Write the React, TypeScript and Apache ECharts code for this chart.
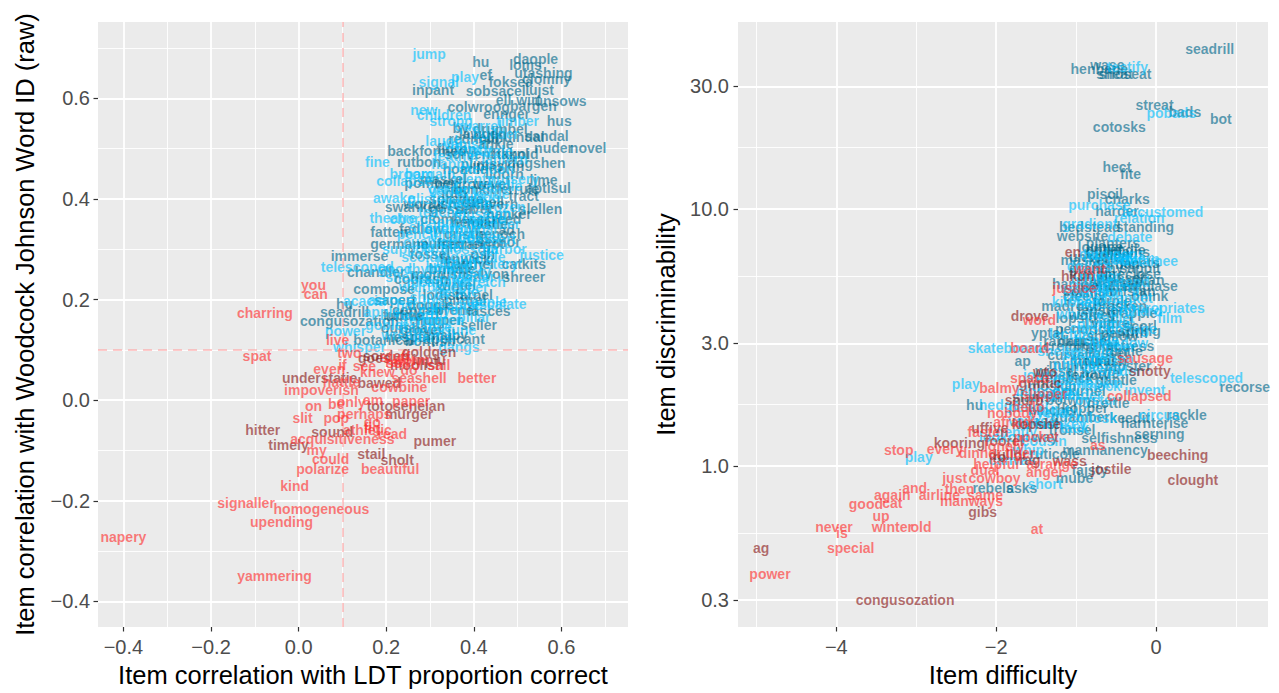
import { useEffect, useRef } from "react";
import * as echarts from "echarts";

type W = [string, number, number];

// ---------- Left panel: x = correlation with LDT, y = correlation with WJ Word ID ----------
const leftBlue: W[] = [
  ["jump", 0.298, 0.689], ["signal", 0.32, 0.632], ["play", 0.38, 0.642], ["new", 0.286, 0.578],
  ["children", 0.332, 0.568], ["strong", 0.348, 0.556], ["laugh", 0.332, 0.515], ["fine", 0.18, 0.473],
  ["broom", 0.257, 0.45], ["collapse", 0.241, 0.436], ["awake", 0.218, 0.402], ["theatre", 0.215, 0.362],
  ["justice", 0.555, 0.289], ["telescoped", 0.134, 0.265], ["acacia", 0.15, 0.198], ["escalate", 0.457, 0.192],
  ["power", 0.107, 0.137], ["whisper", 0.139, 0.105], ["gangs", 0.366, 0.105],
  ["vanish", 0.38, 0.51], ["builder", 0.45, 0.53], ["fancy", 0.40, 0.50], ["lantern", 0.47, 0.48],
  ["happy", 0.35, 0.47], ["mention", 0.43, 0.46], ["bargain", 0.30, 0.45], ["plenty", 0.40, 0.44],
  ["nursery", 0.49, 0.44], ["garden", 0.35, 0.42], ["kettle", 0.44, 0.41], ["glisten", 0.30, 0.40],
  ["decide", 0.39, 0.39], ["frozen", 0.47, 0.385], ["teacher", 0.33, 0.375], ["museum", 0.42, 0.37],
  ["chorus", 0.26, 0.36], ["anchor", 0.37, 0.355], ["wander", 0.45, 0.35], ["shallow", 0.31, 0.345],
  ["journal", 0.40, 0.34], ["pencil", 0.27, 0.33], ["village", 0.35, 0.325], ["dessert", 0.44, 0.32],
  ["cushion", 0.30, 0.315], ["blossom", 0.39, 0.30], ["harbor", 0.47, 0.30], ["support", 0.25, 0.30],
  ["scolding", 0.30, 0.285], ["lemon", 0.36, 0.275], ["mystery", 0.44, 0.27], ["good", 0.22, 0.26],
  ["rhythm", 0.30, 0.26], ["thirsty", 0.39, 0.255], ["shelter", 0.25, 0.245], ["silence", 0.34, 0.24],
  ["stretch", 0.42, 0.235], ["walrus", 0.28, 0.225], ["freckle", 0.36, 0.215], ["across", 0.21, 0.20],
  ["hardly", 0.27, 0.19], ["despise", 0.36, 0.19], ["steeple", 0.42, 0.195], ["apple", 0.19, 0.175],
  ["record", 0.27, 0.17], ["mitten", 0.33, 0.16], ["pillar", 0.40, 0.165], ["goblet", 0.20, 0.15],
  ["balance", 0.29, 0.145], ["fortune", 0.35, 0.14], ["wreath", 0.24, 0.13], ["partial", 0.31, 0.125],
  ["quarrel", 0.41, 0.545], ["timber", 0.50, 0.555], ["puzzle", 0.44, 0.495], ["feather", 0.36, 0.485],
  ["saddle", 0.46, 0.425], ["velvet", 0.34, 0.415], ["button", 0.41, 0.405], ["cradle", 0.37, 0.395],
  ["noble", 0.43, 0.36], ["sparrow", 0.35, 0.34], ["lobster", 0.41, 0.325], ["tunnel", 0.33, 0.305],
  ["marble", 0.42, 0.285], ["hollow", 0.34, 0.265], ["ladder", 0.40, 0.245], ["meadow", 0.31, 0.235],
  ["pepper", 0.38, 0.225], ["shiver", 0.30, 0.205], ["canyon", 0.33, 0.18], ["tender", 0.29, 0.16],
];

const leftTeal: W[] = [
  ["hu", 0.416, 0.673], ["daople", 0.541, 0.679], ["loms", 0.518, 0.667], ["utashing", 0.559, 0.65],
  ["clomny", 0.566, 0.638], ["ef", 0.427, 0.646], ["foksea", 0.484, 0.632], ["inpant", 0.307, 0.616],
  ["sobsacel", 0.45, 0.614], ["lujst", 0.55, 0.616], ["ell", 0.468, 0.596], ["wirt", 0.525, 0.596],
  ["unsows", 0.598, 0.594], ["colwroog", 0.411, 0.582], ["bargen", 0.536, 0.584], ["ennger", 0.475, 0.57],
  ["hus", 0.595, 0.556], ["by", 0.37, 0.541], ["rednuindal", 0.48, 0.523], ["sandal", 0.566, 0.525],
  ["backformed", 0.293, 0.495], ["nuder", 0.582, 0.501], ["novel", 0.661, 0.501], ["hkknl", 0.484, 0.489],
  ["rutbon", 0.275, 0.473], ["dogshen", 0.543, 0.471], ["pomber", 0.30, 0.432], ["lime", 0.559, 0.438],
  ["aptisul", 0.57, 0.422], ["idth", 0.355, 0.412], ["tract", 0.514, 0.406], ["swanked", 0.264, 0.384],
  ["slellen", 0.552, 0.38], ["screed", 0.457, 0.36], ["fatten", 0.207, 0.335], ["ad", 0.475, 0.339],
  ["germane", 0.23, 0.311], ["sernor", 0.457, 0.315], ["immerse", 0.139, 0.287], ["catkits", 0.514, 0.271],
  ["chandler", 0.177, 0.255], ["shreer", 0.514, 0.244], ["compose", 0.195, 0.222], ["hu", 0.105, 0.192],
  ["fasces", 0.434, 0.178], ["seadrill", 0.105, 0.176], ["congusozation", 0.116, 0.158], ["uffive", 0.241, 0.168],
  ["seller", 0.411, 0.15], ["oursha", 0.241, 0.143], ["botanical", 0.195, 0.119], ["applicant", 0.355, 0.121],
  ["lawgen", 0.42, 0.53], ["rednoid", 0.40, 0.52], ["ankle", 0.45, 0.51], ["floron", 0.36, 0.50],
  ["tanoid", 0.50, 0.49], ["plimsy", 0.42, 0.47], ["hoadle", 0.38, 0.46], ["lidorn", 0.47, 0.45],
  ["maskel", 0.33, 0.44], ["trevel", 0.44, 0.43], ["bonkit", 0.40, 0.42], ["ferrule", 0.50, 0.42],
  ["spradge", 0.36, 0.40], ["cavern", 0.45, 0.39], ["wornish", 0.30, 0.39], ["dilvet", 0.40, 0.38],
  ["hanker", 0.48, 0.37], ["clomber", 0.34, 0.36], ["trastle", 0.43, 0.35], ["fadlow", 0.28, 0.34],
  ["gristle", 0.38, 0.33], ["penoch", 0.46, 0.33], ["mulset", 0.32, 0.31], ["rangot", 0.42, 0.31],
  ["tossel", 0.30, 0.29], ["fenwick", 0.38, 0.28], ["osh", 0.42, 0.29], ["brindle", 0.35, 0.26],
  ["salvon", 0.43, 0.25], ["cobrash", 0.28, 0.24], ["wintel", 0.36, 0.23], ["lodish", 0.33, 0.21],
  ["tarnel", 0.40, 0.21], ["sapert", 0.22, 0.20], ["doggle", 0.30, 0.19], ["prenel", 0.36, 0.18],
  ["fuddle", 0.24, 0.17], ["nupper", 0.32, 0.16], ["grovet", 0.28, 0.14], ["malby", 0.34, 0.13],
  ["hesper", 0.25, 0.125], ["bontish", 0.30, 0.118],
  ["drumbel", 0.46, 0.54], ["sorvent", 0.39, 0.49], ["plaskin", 0.46, 0.465], ["wedrow", 0.37, 0.43],
  ["trunell", 0.42, 0.395], ["gosset", 0.35, 0.38], ["hemlar", 0.40, 0.355], ["frennet", 0.37, 0.31],
  ["batchel", 0.39, 0.27], ["mordish", 0.32, 0.25], ["pintrel", 0.38, 0.20], ["corvish", 0.27, 0.18],
];

const leftRed: W[] = [
  ["you", 0.034, 0.23], ["can", 0.039, 0.212], ["charring", -0.077, 0.174], ["live", 0.089, 0.119],
  ["two", 0.116, 0.093], ["spat", -0.095, 0.087], ["even", 0.07, 0.063], ["if", 0.10, 0.069],
  ["see", 0.15, 0.067], ["so", 0.218, 0.073], ["knew", 0.18, 0.057], ["do", 0.252, 0.061],
  ["sail", 0.32, 0.069], ["hattle", 0.098, 0.036], ["seashell", 0.275, 0.044], ["better", 0.407, 0.044],
  ["cowbine", 0.23, 0.026], ["impoverish", 0.052, 0.02], ["only", 0.12, -0.004], ["am", 0.17, 0.0],
  ["paper", 0.257, -0.002], ["on", 0.034, -0.012], ["be", 0.086, -0.008], ["slit", 0.009, -0.036],
  ["pop", 0.086, -0.036], ["perhaps", 0.15, -0.028], ["go", 0.168, -0.044], ["fig", 0.168, -0.055],
  ["athletic", 0.157, -0.059], ["read", 0.214, -0.067], ["acquisitiveness", 0.10, -0.077], ["my", 0.041, -0.099],
  ["could", 0.073, -0.117], ["polarize", 0.055, -0.137], ["beautiful", 0.209, -0.137], ["kind", -0.009, -0.17],
  ["signaller", -0.12, -0.204], ["homogeneous", 0.052, -0.216], ["upending", -0.039, -0.242],
  ["napery", -0.40, -0.273], ["yammering", -0.055, -0.349],
  ["stuff", 0.22, 0.085], ["dorm", 0.26, 0.080], ["ready", 0.24, 0.075],
];

const leftDark: W[] = [
  ["goldgen", 0.298, 0.095], ["goes", 0.173, 0.083], ["inpiu", 0.298, 0.079], ["understatie", 0.048, 0.044],
  ["bawed", 0.184, 0.034], ["totoseneian", 0.245, -0.012], ["murger", 0.252, -0.028], ["hitter", -0.082, -0.059],
  ["sound", 0.077, -0.063], ["pumer", 0.311, -0.081], ["timely", -0.023, -0.089], ["stail", 0.166, -0.107],
  ["sholt", 0.225, -0.119], ["sorden", 0.20, 0.088], ["moolish", 0.27, 0.07],
];

// ---------- Right panel: x = item difficulty, y = item discriminability (log scale) ----------
const rightTeal: W[] = [
  ["seadrill", 0.67, 41.8], ["wase", -0.61, 36.3], ["henbane", -0.71, 35.0], ["sheat", -0.52, 33.5],
  ["shoseat", -0.39, 33.5], ["streat", -0.02, 25.4], ["bads", 0.36, 23.8], ["bot", 0.81, 22.4],
  ["cotosks", -0.46, 20.8], ["hect", -0.49, 14.6], ["fite", -0.32, 13.7], ["piscil", -0.64, 11.4],
  ["charks", -0.36, 10.9], ["harder", -0.49, 9.8], ["bedstead", -0.83, 8.5], ["standing", -0.14, 8.54],
  ["website", -0.92, 7.88], ["planters", -0.54, 7.34], ["chaplains", -0.48, 6.77], ["unsealed", -0.71, 6.48],
  ["facets", -0.21, 6.14], ["foreclose", -0.33, 5.57], ["titan", -0.08, 5.3], ["emplase", -0.08, 5.0],
  ["ohink", -0.08, 4.57], ["yptal", -1.36, 3.29], ["spring", -0.21, 3.35], ["creminy", -1.08, 2.93],
  ["actress", -0.33, 2.93], ["ap", -1.67, 2.56], ["rural", -0.71, 2.56], ["recorse", 1.11, 2.03],
  ["hu", -2.27, 1.73], ["kopper", -0.89, 1.68], ["rackle", 0.38, 1.58], ["keedit", -0.33, 1.53],
  ["harnterise", -0.02, 1.47], ["serning", 0.04, 1.33], ["way", -1.39, 1.29], ["selfishness", -0.46, 1.28],
  ["mannanency", -0.64, 1.15], ["ruticole", -1.27, 1.11], ["fajsty", -0.83, 0.96], ["mube", -1.02, 0.9],
  ["rebels", -2.04, 0.82], ["asks", -1.68, 0.82],
  ["lounce", -0.7, 7.1], ["trindle", -0.4, 6.9], ["maskel", -0.9, 6.3], ["dorben", -0.5, 6.1],
  ["sappit", -0.2, 5.9], ["frondle", -0.8, 5.6], ["plusset", -0.45, 5.4], ["hanlow", -1.0, 5.1],
  ["wendish", -0.6, 5.0], ["bristan", -0.3, 4.8], ["cleevy", -0.9, 4.6], ["torple", -0.55, 4.4],
  ["madrow", -1.1, 4.2], ["fenster", -0.7, 4.05], ["grapple", -0.3, 3.95], ["lopsid", -1.0, 3.75],
  ["vintrel", -0.55, 3.6], ["scorl", -0.2, 3.5], ["pendrick", -0.9, 3.4], ["shollow", -0.55, 3.2],
  ["ranket", -1.15, 3.05], ["bosket", -0.75, 2.95], ["dintle", -0.4, 2.8], ["curvet", -1.1, 2.7],
  ["holmish", -0.7, 2.55], ["tapster", -0.35, 2.45], ["wissel", -1.25, 2.35], ["ferrow", -0.85, 2.25],
  ["gantle", -0.5, 2.15], ["moskin", -1.3, 2.05], ["purnel", -0.9, 1.95], ["slanish", -1.5, 1.85],
  ["botwin", -1.1, 1.8], ["drettle", -0.6, 1.75], ["hinchel", -1.3, 1.65], ["quamber", -0.95, 1.55],
  ["larkish", -1.45, 1.45], ["tronsel", -1.05, 1.38],
  ["pollet", -0.65, 6.9], ["granchy", -0.75, 5.9], ["stemple", -0.5, 5.2], ["cornish", -0.85, 4.8],
  ["brasken", -0.45, 4.2], ["wolvey", -0.8, 3.85], ["penrith", -0.4, 3.3], ["dabchel", -0.9, 3.05],
  ["fosset", -0.6, 2.75], ["mulwick", -1.0, 2.5], ["hartle", -0.7, 2.3], ["trembick", -1.15, 2.2],
];

const rightBlue: W[] = [
  ["testify", -0.36, 35.6], ["pobads", 0.19, 23.6], ["purchase", -0.71, 10.4], ["accustomed", 0.08, 9.77],
  ["relation", -0.21, 9.26], ["gradient", -0.83, 8.77], ["debate", -0.33, 7.81], ["cardigans", -0.55, 6.7],
  ["detainee", -0.08, 6.25], ["dollars", -0.83, 5.98], ["cinema", -0.89, 4.87], ["appropriates", 0.08, 4.11],
  ["film", 0.17, 3.76], ["skateboard", -1.89, 2.87], ["telescoped", 0.63, 2.2], ["play", -2.38, 2.08],
  ["invent", -0.14, 1.98], ["hedge", -1.96, 1.72], ["circus", 0.04, 1.58], ["collosk", -0.79, 1.53],
  ["tauk", -1.02, 1.4], ["play", -2.97, 1.08], ["short", -1.39, 0.85],
  ["harvest", -0.6, 6.6], ["lantern", -0.25, 6.4], ["giraffe", -0.8, 5.3], ["pretend", -0.4, 5.2],
  ["mention", -0.75, 4.7], ["blanket", -0.35, 4.5], ["kitchen", -1.0, 4.35], ["scissors", -0.6, 4.25],
  ["orchard", -0.25, 4.0], ["whistle", -0.95, 3.9], ["glimmer", -0.65, 3.55], ["cottage", -0.3, 3.4],
  ["lecture", -1.05, 3.25], ["freckle", -0.75, 3.1], ["meadow", -0.45, 3.0], ["shelter", -1.2, 2.8],
  ["sparkle", -0.85, 2.75], ["ribbon", -0.55, 2.6], ["tumble", -1.0, 2.45], ["plenty", -0.65, 2.4],
  ["journey", -1.35, 2.25], ["castle", -1.05, 2.15], ["napkin", -0.7, 2.1], ["blossom", -1.4, 1.95],
  ["thunder", -1.0, 1.88], ["pencil", -1.6, 1.7], ["lullaby", -1.2, 1.62], ["voyage", -1.55, 1.5],
  ["monkey", -1.2, 1.45], ["gently", -1.75, 1.35], ["cousin", -1.4, 1.25], ["lookout", -1.9, 1.3],
  ["whip", -1.6, 1.15], ["canvas", -1.8, 1.05], ["eyelid", -1.35, 1.6],
  ["buckle", -0.5, 6.3], ["mirror", -0.7, 5.5], ["pudding", -0.55, 4.95], ["rocket", -0.9, 4.45],
  ["tablet", -0.5, 3.75], ["crystal", -0.8, 3.45], ["lumber", -0.55, 2.9], ["candle", -0.9, 2.6],
  ["spider", -0.45, 2.35], ["hammock", -0.85, 2.05], ["puppet", -1.25, 1.9], ["oyster", -0.75, 1.8],
];

const rightRed: W[] = [
  ["want", -0.83, 5.82], ["justice", -1.02, 4.91], ["word", -1.46, 3.7], ["board", -1.58, 2.87],
  ["sausage", -0.14, 2.63], ["space", -1.58, 2.2], ["balmy", -1.96, 2.01], ["collapsed", -0.21, 1.87],
  ["stop", -3.22, 1.15], ["every", -2.64, 1.16], ["as", -0.73, 1.21], ["dual", -2.14, 0.96],
  ["anger", -1.39, 0.95], ["just", -2.52, 0.9], ["cowboy", -2.02, 0.9], ["then", -2.46, 0.81],
  ["and", -3.02, 0.82], ["again", -3.3, 0.77], ["airline", -2.71, 0.77], ["same", -2.14, 0.77],
  ["good", -3.63, 0.71], ["cat", -3.3, 0.72], ["manways", -2.31, 0.73], ["up", -3.44, 0.64],
  ["never", -4.03, 0.58], ["winter", -3.3, 0.58], ["old", -2.94, 0.58], ["at", -1.49, 0.57],
  ["is", -3.93, 0.55], ["special", -3.82, 0.48], ["power", -4.83, 0.38],
  ["fasten", -2.1, 1.35], ["hello", -1.6, 1.7], ["lonely", -1.9, 1.2], ["tiger", -1.7, 1.12],
  ["pocket", -1.5, 1.3], ["dinner", -2.2, 1.12], ["slipper", -1.4, 1.9], ["nobody", -1.8, 1.6],
  ["arrange", -1.3, 1.02], ["helpful", -2.0, 1.02], ["afraid", -1.8, 1.48],
];

const rightDark: W[] = [
  ["en", -1.04, 6.77], ["hkun", -0.98, 5.47], ["drove", -1.58, 3.83], ["snotty", -0.08, 2.34],
  ["wto", -1.39, 2.32], ["uffive", -2.08, 1.41], ["kooring", -2.46, 1.23], ["beeching", 0.27, 1.1],
  ["rag", -1.58, 1.05], ["wass", -1.08, 1.04], ["ro", -1.96, 1.08], ["jostile", -0.56, 0.97],
  ["clought", 0.46, 0.88], ["gibs", -2.17, 0.66], ["ag", -4.94, 0.48], ["congusozation", -3.14, 0.3],
  ["foorel", -1.9, 1.25], ["snurb", -1.65, 1.8], ["kopshe", -1.5, 1.45], ["dullor", -1.85, 1.1],
  ["grintic", -1.45, 2.1],
];

// ---------- Axis breaks ----------
const leftXMajor = [-0.4, -0.2, 0, 0.2, 0.4, 0.6];
const leftXMinor = [-0.3, -0.1, 0.1, 0.3, 0.5, 0.7];
const leftYMajor = [-0.4, -0.2, 0, 0.2, 0.4, 0.6];
const leftYMinor = [-0.3, -0.1, 0.1, 0.3, 0.5, 0.7];
const rightXMajor = [-4, -2, 0];
const rightXMinor = [-5, -3, -1, 1];
const rightYMajor = [0.3, 1, 3, 10, 30];
const cutoff = 0.1;

const FONT = "'Liberation Sans', Arial, sans-serif";
const C_RED = "rgba(255,48,48,0.78)";
const C_DARK = "rgba(139,26,26,0.78)";
const C_TEAL = "rgba(0,104,139,0.78)";
const C_BLUE = "rgba(0,191,255,0.78)";

const fmtSigned = (d: number) => (v: number) => {
  const s = Math.abs(v).toFixed(d);
  return v < -1e-9 ? "\u2212" + s : s;
};

function buildOption() {
  const lg = Math.log10;
  const rYMajorLog = rightYMajor.map((v) => lg(v));
  const rYMinorLog: number[] = [];
  for (let i = 0; i < rYMajorLog.length - 1; i++) rYMinorLog.push((rYMajorLog[i] + rYMajorLog[i + 1]) / 2);

  const major = (gridIndex: number, min: number, max: number, vals: number[], fmt: any, position: string, name: string, nameGap: number, labelMargin: number) => ({
    type: "value", gridIndex, min, max, position, name, nameLocation: "middle", nameGap,
    nameTextStyle: { fontSize: 25.5, color: "#000", fontFamily: FONT },
    axisLine: { show: false, onZero: false },
    axisTick: { show: true, length: 4.5, lineStyle: { color: "#333", width: 1.2 }, customValues: vals },
    axisLabel: { show: true, customValues: vals, formatter: fmt, color: "#4D4D4D", fontSize: 20, fontFamily: FONT, margin: labelMargin },
    splitLine: { show: true, lineStyle: { color: "#FFFFFF", width: 1.8 } },
  });
  const minor = (gridIndex: number, min: number, max: number, vals: number[], position: string) => ({
    type: "value", gridIndex, min, max, position,
    axisLine: { show: false, onZero: false },
    axisTick: { show: false, customValues: vals },
    axisLabel: { show: false },
    splitLine: { show: true, lineStyle: { color: "#FFFFFF", width: 0.9 } },
  });

  const words = (list: W[], color: string, xi: number, yi: number, logY: boolean, z: number) => ({
    type: "scatter", xAxisIndex: xi, yAxisIndex: yi, symbolSize: 1, silent: true, z,
    itemStyle: { color: "rgba(0,0,0,0)" },
    data: list.map(([w, x, y]) => ({ name: w, value: [x, logY ? lg(y) : y] })),
    label: { show: true, position: "inside", formatter: "{b}", color, fontSize: 14, fontWeight: "bold", fontFamily: FONT },
    labelLayout: { hideOverlap: false },
  });

  const lxMin = -0.458, lxMax = 0.752, lyMin = -0.451, lyMax = 0.752;
  const rxMin = -5.23, rxMax = 1.4, ryMin = lg(0.236), ryMax = lg(53.4);

  return {
    animation: false,
    backgroundColor: "#FFFFFF",
    grid: [
      { left: 98, top: 22, width: 530, height: 620, show: true, backgroundColor: "#EBEBEB", borderWidth: 0 },
      { left: 738, top: 22, width: 530, height: 620, show: true, backgroundColor: "#EBEBEB", borderWidth: 0 },
    ],
    xAxis: [
      major(0, lxMin, lxMax, leftXMajor, fmtSigned(1), "bottom", "Item correlation with LDT proportion correct", 35, 10),
      minor(0, lxMin, lxMax, leftXMinor, "top"),
      major(1, rxMin, rxMax, rightXMajor, fmtSigned(0), "bottom", "Item difficulty", 35, 10),
      minor(1, rxMin, rxMax, rightXMinor, "top"),
    ],
    yAxis: [
      major(0, lyMin, lyMax, leftYMajor, fmtSigned(1), "left", "Item correlation with Woodcock Johnson Word ID (raw)", 60, 8),
      minor(0, lyMin, lyMax, leftYMinor, "right"),
      major(1, ryMin, ryMax, rYMajorLog, (v: number) => Math.pow(10, v).toFixed(1), "left", "Item discriminability", 59, 9),
      minor(1, ryMin, ryMax, rYMinorLog, "right"),
    ],
    series: [
      {
        type: "scatter", xAxisIndex: 0, yAxisIndex: 0, data: [], silent: true, z: 1,
        markLine: {
          silent: true, symbol: "none", label: { show: false }, animation: false,
          lineStyle: { color: "rgba(255,160,160,0.55)", type: [9, 6], width: 2 },
          data: [{ xAxis: cutoff }, { yAxis: cutoff }],
        },
      },
      words(leftTeal, C_TEAL, 0, 0, false, 3),
      words(leftBlue, C_BLUE, 0, 0, false, 4),
      words(leftDark, C_DARK, 0, 0, false, 5),
      words(leftRed, C_RED, 0, 0, false, 6),
      words(rightTeal, C_TEAL, 2, 2, true, 3),
      words(rightBlue, C_BLUE, 2, 2, true, 4),
      words(rightDark, C_DARK, 2, 2, true, 5),
      words(rightRed, C_RED, 2, 2, true, 6),
    ],
  };
}

export default function App() {
  const ref = useRef<HTMLDivElement>(null);
  useEffect(() => {
    if (!ref.current) return;
    const chart = echarts.init(ref.current, null, { renderer: "svg" });
    chart.setOption(buildOption() as any);
    return () => chart.dispose();
  }, []);
  return (
    <div
      ref={ref}
      style={{ position: "fixed", left: 0, top: 0, width: 1279, height: 693, background: "#FFFFFF" }}
    />
  );
}
